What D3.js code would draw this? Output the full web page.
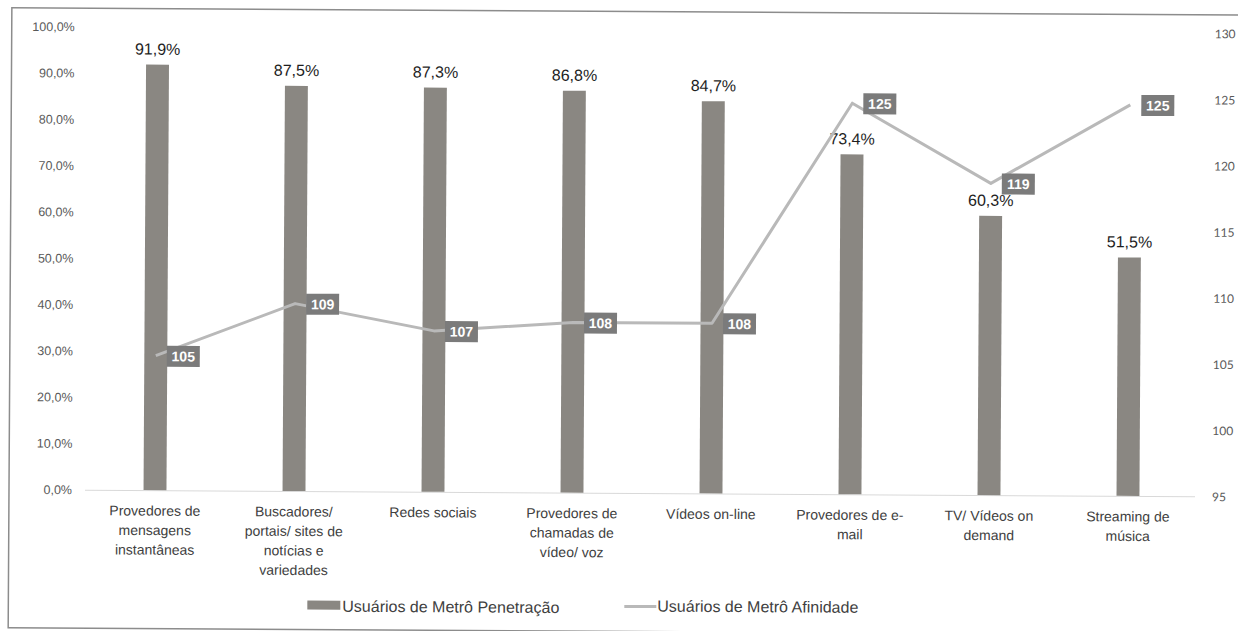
<!DOCTYPE html>
<html>
<head>
<meta charset="utf-8">
<script src="https://cdn.jsdelivr.net/npm/d3@7"></script>
<style>
  body { margin: 0; background: #fff; }
  text { font-family: "Liberation Sans", Arial, sans-serif; }
</style>
</head>
<body>
<svg id="chart" width="1238" height="631"></svg>
<script>
var categories = [
  "Provedores de mensagens instantâneas",
  "Buscadores/ portais/ sites de notícias e variedades",
  "Redes sociais",
  "Provedores de chamadas de vídeo/ voz",
  "Vídeos on-line",
  "Provedores de e-mail",
  "TV/ Vídeos on demand",
  "Streaming de música"
];
var penetracao = [91.9, 87.5, 87.3, 86.8, 84.7, 73.4, 60.3, 51.5];
var afinidade = [105.2, 109.2, 107.2, 107.9, 107.9, 124.6, 118.6, 124.6];
var leftTicks = [0, 10, 20, 30, 40, 50, 60, 70, 80, 90, 100];
var rightTicks = [95, 100, 105, 110, 115, 120, 125, 130];
var seriesNames = ["Usuários de Metrô Penetração", "Usuários de Metrô Afinidade"];

var barColor = "#8a8782";
var lineColor = "#b9b9b9";
var boxColor = "#7b7b7b";

// the scanned original sits a little tilted, so the whole chart is turned slightly
var svg = d3.select("#chart").append("g")
  .attr("transform", "rotate(0.34, 50, 490)");

// frame
svg.append("rect")
  .attr("x", 9).attr("y", 8)
  .attr("width", 1250).attr("height", 620)
  .attr("fill", "none")
  .attr("stroke", "#8c8c8c")
  .attr("stroke-width", 1.5);

var x = d3.scaleBand()
  .domain(categories)
  .range([85.5, 1197.5])
  .paddingInner(0.835)
  .paddingOuter(0.4175);

var yL = d3.scaleLinear().domain([0, 100]).range([489.5, 26.5]);
var yR = d3.scaleLinear().domain([95, 130]).range([490, 27]);

var comma = function(v, digits) {
  return v.toFixed(digits).replace(".", ",");
};

// left axis
var leftAxis = d3.axisLeft(yL)
  .tickValues(leftTicks)
  .tickSize(0)
  .tickPadding(0)
  .tickFormat(function(d) { return comma(d, 1) + "%"; });

var gl = svg.append("g").attr("transform", "translate(72,0)").call(leftAxis);
gl.select(".domain").remove();
gl.selectAll("text")
  .attr("fill", "#595959")
  .style("font-size", "12.5px")
  .style("font-family", "'Liberation Sans', Arial, sans-serif");

// right axis
var rightAxis = d3.axisRight(yR)
  .tickValues(rightTicks)
  .tickSize(0)
  .tickPadding(0);

var gr = svg.append("g").attr("transform", "translate(1212,0)").call(rightAxis);
gr.select(".domain").remove();
gr.selectAll("text")
  .attr("fill", "#595959")
  .style("font-size", "12px")
  .style("font-family", "Lato, 'Open Sans', sans-serif");

// baseline
svg.append("line")
  .attr("x1", 85).attr("x2", 1195)
  .attr("y1", yL(0) + 0.5).attr("y2", yL(0) + 0.5)
  .attr("stroke", "#d9d9d9")
  .attr("stroke-width", 1);

// bars
svg.selectAll("rect.bar")
  .data(penetracao)
  .enter()
  .append("rect")
  .attr("class", "bar")
  .attr("x", function(d, i) { return x(categories[i]); })
  .attr("width", x.bandwidth())
  .attr("y", function(d) { return yL(d); })
  .attr("height", function(d) { return yL(0) - yL(d); })
  .attr("fill", barColor);

// bar labels
svg.selectAll("text.barlabel")
  .data(penetracao)
  .enter()
  .append("text")
  .attr("class", "barlabel")
  .attr("x", function(d, i) { return x(categories[i]) + x.bandwidth() / 2; })
  .attr("y", function(d) { return yL(d) - 10; })
  .attr("text-anchor", "middle")
  .attr("fill", "#1e1e1e")
  .style("font-size", "16px")
  .text(function(d) { return comma(d, 1) + "%"; });

// category labels, wrapped (also breaks after hyphens, like e-/mail)
function wrapWords(str) {
  var parts = [];
  str.split(" ").forEach(function(w) {
    var segs = w.split("-");
    segs.forEach(function(s, k) {
      parts.push({ t: s + (k < segs.length - 1 ? "-" : ""), joinSpace: k === segs.length - 1 });
    });
  });
  return parts;
}

var catG = svg.append("g");
categories.forEach(function(c, i) {
  var cx = x(c) + x.bandwidth() / 2;
  var t = catG.append("text")
    .attr("text-anchor", "middle")
    .attr("fill", "#404040")
    .style("font-size", "14px");
  var parts = wrapWords(c);
  var lines = [];
  var cur = "";
  var probe = t.append("tspan");
  parts.forEach(function(p) {
    var trial = cur + p.t;
    probe.text(trial);
    if (cur !== "" && probe.node().getComputedTextLength() > 124) {
      lines.push(cur.trim());
      cur = p.t;
    } else {
      cur = trial;
    }
    if (p.joinSpace) cur += " ";
  });
  lines.push(cur.trim());
  probe.remove();
  lines.forEach(function(l, j) {
    t.append("tspan")
      .attr("x", cx)
      .attr("y", 515 + j * 19.5)
      .text(l);
  });
});

// line
var line = d3.line()
  .x(function(d, i) { return x(categories[i]) + x.bandwidth() / 2; })
  .y(function(d) { return yR(d); });

svg.append("path")
  .datum(afinidade)
  .attr("d", line)
  .attr("fill", "none")
  .attr("stroke", lineColor)
  .attr("stroke-width", 3)
  .attr("stroke-linejoin", "round");

// line labels
var lbl = svg.selectAll("g.linelabel")
  .data(afinidade)
  .enter()
  .append("g")
  .attr("class", "linelabel")
  .attr("transform", function(d, i) {
    var px = x(categories[i]) + x.bandwidth() / 2;
    return "translate(" + (px + 11) + "," + (yR(d) + 0.5) + ")";
  });

lbl.append("rect")
  .attr("x", 0).attr("y", -10.5)
  .attr("width", 33).attr("height", 21)
  .attr("fill", boxColor);

lbl.append("text")
  .attr("x", 16.5).attr("y", 5)
  .attr("text-anchor", "middle")
  .attr("fill", "#fff")
  .style("font-size", "14px")
  .style("font-weight", "bold")
  .text(function(d) { return Math.round(d); });

// legend
var leg = svg.append("g");
leg.append("rect")
  .attr("x", 308).attr("y", 599)
  .attr("width", 33).attr("height", 9)
  .attr("fill", barColor);
leg.append("text")
  .attr("x", 343).attr("y", 610)
  .attr("fill", "#404040")
  .style("font-size", "16px")
  .text(seriesNames[0]);
leg.append("line")
  .attr("x1", 625).attr("x2", 657)
  .attr("y1", 603).attr("y2", 603)
  .attr("stroke", lineColor)
  .attr("stroke-width", 3);
leg.append("text")
  .attr("x", 658).attr("y", 608)
  .attr("fill", "#404040")
  .style("font-size", "16px")
  .text(seriesNames[1]);
</script>
</body>
</html>
